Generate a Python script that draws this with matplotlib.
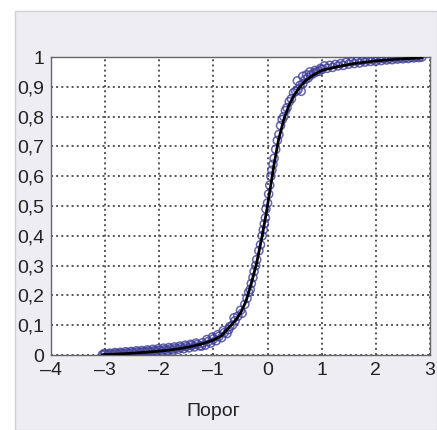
import matplotlib
matplotlib.use('Agg')
import matplotlib.pyplot as plt
from matplotlib.patches import Rectangle

# fitted curve
curve_x = [-3.05, -2.8, -2.5, -2.2, -2.0, -1.8, -1.6, -1.4, -1.2, -1.0, -0.85, -0.7,
           -0.6, -0.5, -0.4, -0.3, -0.2, -0.1, -0.02, 0.05, 0.12, 0.2, 0.3, 0.4,
           0.5, 0.6, 0.7, 0.85, 1.0, 1.3, 1.6, 2.0, 2.4, 2.85]
curve_y = [0.001, 0.003, 0.006, 0.010, 0.013, 0.017, 0.022, 0.029, 0.038, 0.050, 0.065, 0.095,
           0.115, 0.140, 0.180, 0.240, 0.310, 0.400, 0.480, 0.560, 0.640, 0.720, 0.790, 0.840,
           0.875, 0.900, 0.920, 0.940, 0.955, 0.968, 0.978, 0.987, 0.993, 0.997]

# measured points
pts_x = [-3.05, -3.0, -2.95, -2.9, -2.85, -2.8, -2.75, -2.7, -2.65, -2.6, -2.55, -2.5,
         -2.45, -2.4, -2.35, -2.3, -2.25, -2.2, -2.15, -2.1, -2.05, -2.0, -1.95, -1.9,
         -1.85, -1.8, -1.75, -1.7, -1.65, -1.6, -1.55, -1.5, -1.45, -1.4, -1.35, -1.3,
         -1.25, -1.2, -1.15, -1.1, -1.05, -1.0, -0.95, -0.9, -0.85, -0.8, -0.75, -0.7,
         -0.65, -0.6, -0.55, -0.5, -0.47,
         -0.42, -0.38, -0.35, -0.32, -0.3, -0.27, -0.25, -0.22, -0.2, -0.16, -0.13, -0.1,
         -0.08, -0.06, -0.04, -0.03, 0.0, 0.02, 0.04, 0.06, 0.08, 0.1, 0.12, 0.15,
         0.18, 0.21, 0.24, 0.27, 0.3, 0.33, 0.36, 0.4, 0.44, 0.48, 0.52, 0.56,
         0.6, 0.62, 0.65, 0.7, 0.75, 0.8, 0.85, 0.9, 0.95, 1.0, 1.1, 1.2,
         1.3, 1.4, 1.5, 1.6, 1.7, 1.8, 1.9, 2.0, 2.1, 2.2, 2.3, 2.4,
         2.5, 2.6, 2.7, 2.8,
         -3.02, -2.92, -2.82, -2.72, -2.62, -2.52, -2.42, -2.32, -2.22, -2.12, -2.02, -1.92,
         -1.82, -1.72, -1.62, -1.52, -1.42, -1.32, -1.22, -1.12, -1.02, -0.92, -0.82, -0.72,
         -0.62,
         0.55, 0.65, 0.72, 0.78, 0.88, 0.98, 1.05, 1.15, 1.25, 1.35, 1.45, 1.55,
         1.65, 1.75, 1.85, 1.95, 2.05, 2.15, 2.25, 2.35, 2.45, 2.55, 2.65, 2.75,
         2.85]
pts_y = [0.000, 0.003, 0.001, 0.004, 0.002, 0.005, 0.003, 0.006, 0.004, 0.007, 0.005, 0.008,
         0.006, 0.010, 0.008, 0.011, 0.009, 0.013, 0.010, 0.014, 0.012, 0.016, 0.013, 0.018,
         0.015, 0.020, 0.017, 0.022, 0.019, 0.025, 0.021, 0.028, 0.024, 0.032, 0.027, 0.035,
         0.031, 0.041, 0.033, 0.045, 0.040, 0.054, 0.048, 0.062, 0.058, 0.075, 0.072, 0.095,
         0.100, 0.115, 0.130, 0.150, 0.140,
         0.170, 0.190, 0.210, 0.220, 0.240, 0.260, 0.280, 0.300, 0.320, 0.350, 0.370, 0.400,
         0.420, 0.440, 0.460, 0.490, 0.510, 0.540, 0.570, 0.600, 0.620, 0.640, 0.660, 0.690,
         0.720, 0.740, 0.770, 0.790, 0.800, 0.820, 0.830, 0.850, 0.860, 0.880, 0.885, 0.890,
         0.905, 0.885, 0.910, 0.925, 0.930, 0.940, 0.945, 0.950, 0.952, 0.958, 0.962, 0.965,
         0.970, 0.972, 0.976, 0.978, 0.980, 0.983, 0.985, 0.986, 0.988, 0.990, 0.991, 0.993,
         0.994, 0.995, 0.997, 0.998,
         0.005, 0.006, 0.008, 0.009, 0.011, 0.012, 0.014, 0.015, 0.017, 0.019, 0.021, 0.023,
         0.025, 0.027, 0.030, 0.033, 0.036, 0.040, 0.030, 0.052, 0.060, 0.068, 0.082, 0.085,
         0.125,
         0.920, 0.935, 0.940, 0.950, 0.955, 0.962, 0.970, 0.972, 0.975, 0.978, 0.982, 0.984,
         0.986, 0.988, 0.990, 0.991, 0.993, 0.994, 0.995, 0.996, 0.997, 0.998, 0.999, 1.000,
         1.000]

x_ticks = [-4, -3, -2, -1, 0, 1, 2, 3]
x_labels = ['–4', '–3', '–2', '–1', '0', '1', '2', '3']
y_ticks = [0, 0.1, 0.2, 0.3, 0.4, 0.5, 0.6, 0.7, 0.8, 0.9, 1]
y_labels = ['0', '0,1', '0,2', '0,3', '0,4', '0,5', '0,6', '0,7', '0,8', '0,9', '1']

plt.rcParams['font.family'] = ['Liberation Sans Narrow', 'Liberation Sans', 'DejaVu Sans']

fig = plt.figure(figsize=(4.37, 4.30), dpi=100)
fig.patch.set_facecolor('white')
# grey panel behind the chart
panel = Rectangle((15 / 437, 0), 1 - 15 / 437, 1 - 11 / 430, transform=fig.transFigure,
                  facecolor='#ededf3', edgecolor='#cfcfd6', linewidth=1, zorder=-10)
fig.patches.append(panel)

ax = fig.add_axes([51 / 437, 1 - 355 / 430, (430 - 51) / 437, (355 - 57) / 430])
ax.set_facecolor('white')

ax.scatter(pts_x, pts_y, s=34, facecolors='none', edgecolors='#40409a',
           linewidths=1.1, alpha=0.8, zorder=3)
ax.plot(curve_x, curve_y, color='black', linewidth=2.0, zorder=4)

ax.set_xlim(-4, 3)
ax.set_ylim(0, 1)
ax.set_xticks(x_ticks)
ax.set_xticklabels(x_labels)
ax.set_yticks(y_ticks)
ax.set_yticklabels(y_labels)
ax.tick_params(length=0, labelsize=14, colors='#222222', pad=5)
ax.grid(True, linestyle=':', color='#555555', linewidth=1.4)
ax.set_axisbelow(True)
for s in ax.spines.values():
    s.set_color('#666666')
    s.set_linewidth(1)

fig.text(213 / 437, 1 - 412 / 430, 'Порог', ha='center', va='center',
         fontsize=14, color='#222222')

fig.savefig('out.png', dpi=100, facecolor=fig.get_facecolor())
